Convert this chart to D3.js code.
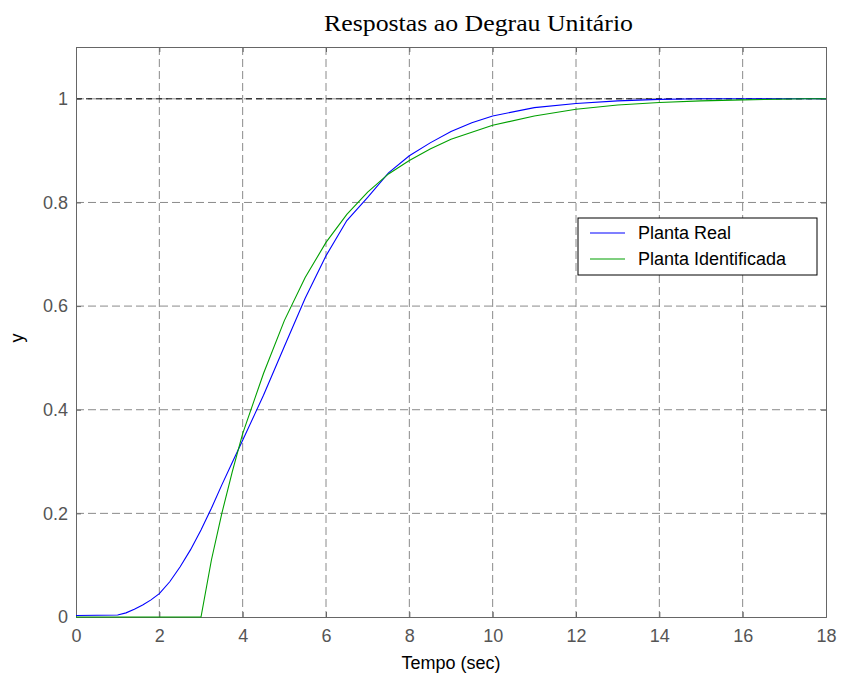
<!DOCTYPE html>
<html>
<head>
<meta charset="utf-8">
<script src="https://cdn.jsdelivr.net/npm/d3@7"></script>
<style>
  body { margin: 0; background: #fff; }
  svg { display: block; }
</style>
</head>
<body>
<script>
// Planta Real (blue)
var realTime = [0, 1, 1.2, 1.4, 1.6, 1.8, 2, 2.25, 2.5, 2.75, 3, 3.25, 3.5, 3.75, 4, 4.5, 5, 5.5, 6, 6.5, 7, 7.5, 8, 8.5, 9, 9.5, 10, 11, 12, 13, 14, 15, 18];
var realY = [0.003, 0.004, 0.008, 0.015, 0.023, 0.033, 0.045, 0.068, 0.097, 0.13, 0.168, 0.21, 0.255, 0.298, 0.341, 0.428, 0.522, 0.615, 0.697, 0.765, 0.81, 0.857, 0.89, 0.915, 0.937, 0.954, 0.967, 0.983, 0.991, 0.996, 0.999, 1.0, 1.0];

// Planta Identificada (green)
var identTime = [0, 3, 3.25, 3.5, 3.75, 4, 4.5, 5, 5.5, 6, 6.5, 7, 7.5, 8, 8.5, 9, 10, 11, 12, 13, 14, 15, 16, 17.5, 18];
var identY = [0, 0, 0.11, 0.2, 0.28, 0.354, 0.47, 0.572, 0.655, 0.723, 0.777, 0.82, 0.855, 0.881, 0.903, 0.922, 0.949, 0.967, 0.98, 0.988, 0.993, 0.996, 0.998, 1.0, 1.0];

var xTicks = [0, 2, 4, 6, 8, 10, 12, 14, 16, 18];
var yTicks = [0, 0.2, 0.4, 0.6, 0.8, 1];
var refLine = [1];

var legendNames = ["Planta Real", "Planta Identificada"];
var colors = ["#0000ff", "#00a000"];

var w = 841, h = 681;
var margin = {top: 47, right: 15, bottom: 64, left: 76};
var width = w - margin.left - margin.right,
    height = h - margin.top - margin.bottom;

var x = d3.scaleLinear().domain([0, 18]).range([0, width]);
var y = d3.scaleLinear().domain([0, 1.1]).range([height, 0]);

var svg = d3.select("body").append("svg")
  .attr("width", w)
  .attr("height", h);

var g = svg.append("g")
  .attr("transform", "translate(" + margin.left + "," + margin.top + ")");

//grid
g.selectAll(".vgrid")
  .data(xTicks.slice(1, -1))
  .enter().append("line")
  .attr("x1", function(d) { return x(d); })
  .attr("x2", function(d) { return x(d); })
  .attr("y1", 0)
  .attr("y2", height)
  .attr("stroke", "#8a8a8a")
  .attr("stroke-dasharray", "8,4");

g.selectAll(".hgrid")
  .data(yTicks.slice(1))
  .enter().append("line")
  .attr("x1", 0)
  .attr("x2", width)
  .attr("y1", function(d) { return y(d); })
  .attr("y2", function(d) { return y(d); })
  .attr("stroke", "#8a8a8a")
  .attr("stroke-dasharray", "8,4");

// reference line at y=1
g.selectAll(".ref")
  .data(refLine)
  .enter().append("line")
  .attr("x1", 0)
  .attr("x2", width)
  .attr("y1", function(d) { return y(d); })
  .attr("y2", function(d) { return y(d); })
  .attr("stroke", "#000")
  .attr("stroke-dasharray", "6,4");

//axes
g.append("g")
  .attr("transform", "translate(0," + height + ")")
  .call(d3.axisBottom(x).tickValues(xTicks).tickSize(-5).tickPadding(12).tickFormat(d3.format("d")));

g.append("g")
  .call(d3.axisLeft(y).tickValues(yTicks).tickSize(-5).tickPadding(8).tickFormat(function(d) { return d; }));

g.append("g")
  .call(d3.axisTop(x).tickValues(xTicks).tickSize(-5).tickFormat(""));

g.append("g")
  .attr("transform", "translate(" + width + ",0)")
  .call(d3.axisRight(y).tickValues(yTicks).tickSize(-5).tickFormat(""));

g.selectAll(".domain").attr("stroke", "#666");
g.selectAll(".tick line").attr("stroke", "#666");
g.selectAll(".tick text")
  .attr("fill", "#555")
  .attr("font-family", "Liberation Sans, Arial, sans-serif")
  .attr("font-size", "18px");

//lines
var line = d3.line()
  .x(function(d) { return x(d[0]); })
  .y(function(d) { return y(d[1]); });

var series = [d3.zip(realTime, realY), d3.zip(identTime, identY)];

g.selectAll(".series")
  .data(series)
  .enter().append("path")
  .attr("d", line)
  .attr("fill", "none")
  .attr("stroke", function(d, i) { return colors[i]; })
  .attr("stroke-width", 1.1);

//legend
var legend = svg.append("g")
  .attr("transform", "translate(578,218)");

legend.append("rect")
  .attr("width", 239)
  .attr("height", 57)
  .attr("fill", "#fff")
  .attr("stroke", "#000");

var items = legend.selectAll(".item")
  .data(legendNames)
  .enter().append("g")
  .attr("transform", function(d, i) { return "translate(0," + (15 + i * 26) + ")"; });

items.append("line")
  .attr("x1", 12)
  .attr("x2", 47)
  .attr("stroke", function(d, i) { return colors[i]; })
  .attr("stroke-width", 1.1);

items.append("text")
  .text(function(d) { return d; })
  .attr("x", 60)
  .attr("y", 6)
  .attr("font-family", "Liberation Sans, Arial, sans-serif")
  .attr("font-size", "18px")
  .attr("fill", "#000");

//title + labels
svg.append("text")
  .text("Respostas ao Degrau Unitário")
  .attr("x", 324)
  .attr("y", 31)
  .attr("font-family", "Liberation Serif, Times New Roman, serif")
  .attr("font-size", "24px")
  .attr("textLength", 309)
  .attr("lengthAdjust", "spacingAndGlyphs")
  .attr("fill", "#000");

svg.append("text")
  .text("Tempo (sec)")
  .attr("x", margin.left + width / 2)
  .attr("y", 669)
  .attr("text-anchor", "middle")
  .attr("font-family", "Liberation Sans, Arial, sans-serif")
  .attr("font-size", "18px")
  .attr("fill", "#000");

svg.append("text")
  .text("y")
  .attr("transform", "translate(23,338) rotate(-90)")
  .attr("text-anchor", "middle")
  .attr("font-family", "Liberation Sans, Arial, sans-serif")
  .attr("font-size", "18px")
  .attr("fill", "#000");
</script>
</body>
</html>
